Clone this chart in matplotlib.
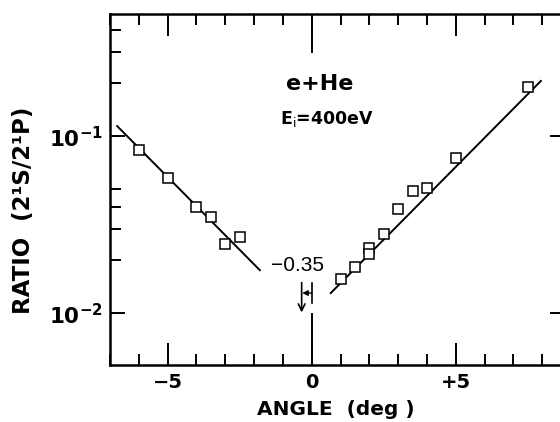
import matplotlib
matplotlib.use("Agg")
import matplotlib.pyplot as plt
from matplotlib.ticker import FixedLocator, FixedFormatter, NullFormatter

# measured ratios, e + He at 400 eV
left_angle = [-6, -5, -4, -3.5, -3, -2.5]
left_ratio = [0.084, 0.058, 0.040, 0.035, 0.0245, 0.027]
right_angle = [1, 1.5, 2, 2, 2.5, 3, 3.5, 4, 5, 7.5]
right_ratio = [0.0156, 0.0182, 0.0233, 0.0216, 0.028, 0.0387, 0.049, 0.051, 0.075, 0.189]

# straight-line fits (end points)
left_fit_angle = [-6.75, -1.8]
left_fit_ratio = [0.114, 0.0175]
right_fit_angle = [0.66, 7.95]
right_fit_ratio = [0.0130, 0.205]

shift = -0.35

x_major = [-5, 0, 5]
x_major_labels = ["\u22125", "0", "+5"]
x_minor = list(range(-7, 10))
y_major = [1e-2, 1e-1]
y_major_labels = [r"$\mathbf{10^{-2}}$", r"$\mathbf{10^{-1}}$"]
y_minor = [2e-2, 3e-2, 4e-2, 5e-2, 2e-1, 3e-1, 4e-1]

XLIM = (-7, 8.8)
YLIM = (0.0051, 0.49)

plt.rcParams["font.family"] = ["DejaVu Sans"]
plt.rcParams["mathtext.fontset"] = "dejavusans"

fig = plt.figure(figsize=(5.6, 4.22), dpi=100)
ax = fig.add_axes([0.1964, 0.1351, 0.8132, 0.8318])
ax.set_yscale("log")
ax.set_xlim(*XLIM)
ax.set_ylim(*YLIM)

ax.plot(left_fit_angle, left_fit_ratio, color="black", lw=1.4)
ax.plot(right_fit_angle, right_fit_ratio, color="black", lw=1.4)
ax.plot(left_angle, left_ratio, ls="none", marker="s", ms=7.2,
        mfc="white", mec="black", mew=1.1)
ax.plot(right_angle, right_ratio, ls="none", marker="s", ms=7.2,
        mfc="white", mec="black", mew=1.1)

# long zero ticks on top and bottom
ax.plot([0, 0], [YLIM[0], 0.0099], color="black", lw=1.4)
ax.plot([0, 0], [0.30, YLIM[1]], color="black", lw=1.4)

# -0.35 shift marker
ax.text(shift - 0.14, 0.0187, "\u22120.35", fontsize=15, family="Liberation Sans",
        ha="center", va="center")
ax.annotate("", xy=(shift, 0.0101), xytext=(shift, 0.0149),
            arrowprops=dict(arrowstyle="->", lw=1.2, color="black",
                            shrinkA=0, shrinkB=0, mutation_scale=12))
ax.annotate("", xy=(shift + 0.02, 0.0130), xytext=(0, 0.0130),
            arrowprops=dict(arrowstyle="-|>", lw=1.0, color="black",
                            shrinkA=0, shrinkB=0, mutation_scale=8))
ax.plot([0, 0], [0.0114, 0.0149], color="black", lw=1.2)

ax.text(0.28, 0.197, "e+He", fontsize=16, fontweight="bold", ha="center", va="center")
ax.text(0.53, 0.125, r"E$_{\rm i}$=400eV", fontsize=12.5, fontweight="bold",
        ha="center", va="center")

ax.xaxis.set_major_locator(FixedLocator(x_major))
ax.xaxis.set_major_formatter(FixedFormatter(x_major_labels))
ax.xaxis.set_minor_locator(FixedLocator(x_minor))
ax.xaxis.set_minor_formatter(NullFormatter())
ax.yaxis.set_major_locator(FixedLocator(y_major))
ax.yaxis.set_major_formatter(FixedFormatter(y_major_labels))
ax.yaxis.set_minor_locator(FixedLocator(y_minor))
ax.yaxis.set_minor_formatter(NullFormatter())

ax.tick_params(axis="both", which="both", direction="in", width=1.4,
               top=True, right=True, labelsize=14)
ax.tick_params(axis="x", which="major", length=16, pad=6)
ax.tick_params(axis="x", which="minor", length=8)
ax.tick_params(axis="y", which="major", length=11, pad=5, labelsize=15.5)
ax.tick_params(axis="y", which="minor", length=8, right=False)
for lab in ax.get_xticklabels():
    lab.set_fontweight("bold")

for sp in ax.spines.values():
    sp.set_linewidth(1.8)

ax.set_xlabel("ANGLE  (deg )", fontsize=14.5, fontweight="bold")
ax.set_ylabel("RATIO  (2\u00b9S/2\u00b9P)", fontsize=16.5, fontweight="bold")
ax.xaxis.set_label_coords(0.496, -0.1)
ax.yaxis.set_label_coords(-0.165, 0.44)

fig.savefig("out.png", dpi=100)
